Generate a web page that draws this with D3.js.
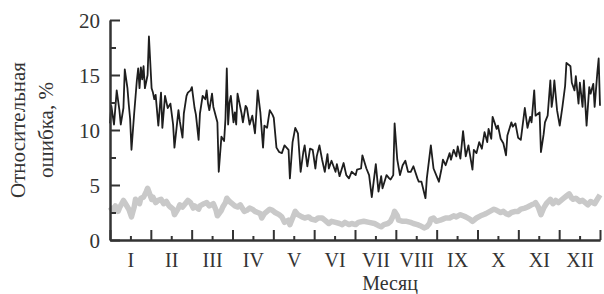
<!DOCTYPE html>
<html>
<head>
<meta charset="utf-8">
<script src="https://cdn.jsdelivr.net/npm/d3@7"></script>
<style>
  html, body { margin: 0; padding: 0; background: #ffffff; }
  svg { display: block; }
  text { font-family: "Liberation Serif", "DejaVu Serif", serif; fill: #333; }
</style>
</head>
<body>
<script>
// ---- data ----
const monthLabels = ["I","II","III","IV","V","VI","VII","VIII","IX","X","XI","XII"];
const yTicks = [0, 5, 10, 15, 20];
const yMinorTicks = [2.5, 7.5, 12.5, 17.5];

// black series: relative error (%) by day of year
const errDay = [0,1,3,5,7,8,10,11,13,14,15,16,18,19,20,21,22,23,24,25,26,28,29,31,32,33,34,36,38,39,41,43,45,47,48,51,52,54,55,57,58,60,61,63,64,66,67,69,71,72,73,74,76,77,80,81,83,85,86,87,88,89,90,92,93,94,95,98,99,101,102,104,106,108,109,110,112,114,115,117,119,121,122,124,126,128,130,133,134,136,138,140,142,144,145,147,149,151,153,154,156,158,160,162,163,165,168,169,171,174,176,178,180,183,184,187,188,191,193,195,198,200,202,203,206,208,209,211,212,214,216,218,220,222,224,226,229,230,232,235,236,239,241,244,245,247,248,250,253,254,256,258,259,261,263,265,267,270,271,273,275,277,279,281,282,284,285,288,289,291,293,295,296,299,300,302,304,306,309,311,313,314,316,317,320,321,323,324,326,328,329,330,331,333,335,337,339,340,343,344,346,347,349,350,352,353,355,357,358,360,361,363,364,365];
const errValue = [10.6,12.2,10.5,13.6,11.8,10.5,12.0,15.5,13.8,12.3,11.0,8.2,11.5,13.0,14.5,15.6,13.8,15.7,14.6,15.8,13.8,15.0,18.5,13.8,13.4,12.8,13.2,10.4,13.4,10.2,13.1,12.0,12.4,10.5,8.4,11.8,10.8,9.3,11.5,13.1,13.4,13.6,13.9,12.0,11.4,9.1,11.5,13.1,12.8,13.6,12.4,11.8,13.3,12.1,10.7,6.2,9.4,9.0,11.0,15.6,10.5,12.5,13.1,10.7,11.6,10.5,13.3,11.5,10.7,12.2,12.0,10.5,11.3,9.7,11.5,13.6,11.6,8.4,10.4,10.2,11.8,11.4,11.1,8.4,8.0,7.9,8.6,8.2,5.6,8.9,10.2,9.7,6.2,8.0,8.6,6.7,8.3,8.2,6.5,7.6,8.6,7.3,6.2,7.8,6.5,7.2,6.2,6.9,5.8,7.0,5.9,5.6,6.2,5.9,6.4,6.5,7.7,6.5,5.9,3.9,6.9,4.4,5.8,4.7,5.9,5.6,5.5,5.9,10.6,7.3,5.9,6.8,7.2,6.2,6.2,6.7,5.6,5.3,5.3,3.8,5.6,8.6,6.5,5.6,5.3,6.5,7.3,6.8,7.9,7.3,8.2,7.6,8.5,7.4,9.9,7.6,8.6,6.4,8.2,7.9,8.9,8.3,9.8,8.9,10.1,9.2,11.2,10.1,10.4,9.2,8.8,7.7,9.5,10.7,10.3,10.6,9.3,9.1,12.0,10.2,11.2,10.7,13.6,11.3,11.6,8.0,9.6,10.7,11.3,14.5,12.1,13.0,14.5,11.8,10.4,12.1,14.0,16.1,15.8,14.3,13.6,14.9,12.4,14.3,12.1,14.5,10.4,13.9,13.3,14.2,12.1,15.2,16.5,12.2];

// gray series
const grayDay = [0,2,4,6,7,10,12,14,16,18,19,22,23,25,27,28,31,32,34,36,38,40,42,44,45,47,48,51,52,54,56,58,60,62,63,66,67,70,72,74,77,79,80,83,84,86,87,89,91,93,95,97,98,100,102,104,106,108,110,112,113,115,117,119,121,123,126,128,130,133,134,136,138,140,143,145,148,150,153,155,158,160,163,165,168,171,173,175,178,180,183,185,189,193,197,200,202,204,207,209,211,212,214,215,218,221,224,226,229,231,234,236,238,239,241,243,246,248,250,253,256,258,261,263,265,268,270,273,276,278,280,283,286,288,291,293,295,297,299,302,304,306,309,311,314,316,317,319,321,323,325,328,330,332,334,336,338,340,342,344,345,347,350,352,354,356,358,361,363,365];
const grayValue = [3.0,2.7,3.1,2.6,2.9,3.6,3.2,2.8,2.1,3.0,3.7,3.3,3.8,3.9,4.4,4.7,3.7,3.9,3.4,3.6,3.7,3.3,3.5,3.1,3.0,2.8,2.3,2.9,3.2,3.0,3.3,3.6,3.4,2.9,3.1,2.8,3.1,3.3,3.4,3.1,3.3,2.7,2.2,2.7,3.0,3.4,3.8,3.5,3.3,3.1,3.0,3.2,3.0,2.6,2.7,2.9,2.8,2.6,2.5,2.4,2.0,2.4,2.6,2.8,2.7,2.5,2.3,2.1,1.6,1.8,1.4,2.0,2.6,2.3,2.1,2.0,2.1,1.9,1.8,2.0,2.0,1.8,1.5,1.7,1.6,1.5,1.4,1.6,1.4,1.5,1.4,1.6,1.7,1.6,1.5,1.3,1.2,1.4,1.5,1.7,2.2,2.6,2.2,1.8,1.7,1.7,1.6,1.5,1.4,1.3,1.1,1.2,1.5,1.9,2.0,1.7,1.8,1.9,2.0,2.0,2.2,2.1,2.3,2.2,2.1,1.9,1.7,2.0,2.2,2.3,2.4,2.6,2.8,2.7,2.5,2.6,2.4,2.3,2.5,2.6,2.6,2.8,2.9,3.0,3.2,3.3,3.4,3.0,2.3,2.9,3.3,3.7,3.3,3.6,3.4,3.6,3.8,4.0,4.2,3.8,3.7,3.8,3.5,3.6,3.4,3.2,3.5,3.3,3.7,4.1];

const yLabelLines = ["Относительная", "ошибка, %"];
const xLabel = "Месяц";

// ---- layout ----
const W = 604, H = 294;
const svg = d3.select("body").append("svg").attr("width", W).attr("height", H);

const x = d3.scaleLinear().domain([0, 365]).range([110, 600]);
const y = d3.scaleLinear().domain([0, 20]).range([240, 20]);

const monthBounds = d3.range(13).map(i => i * 365 / 12);
const monthCenters = d3.range(12).map(i => (i + 0.5) * 365 / 12);

// gray line
const line = d3.line().x(d => x(d[0])).y(d => y(d[1]));
svg.append("path")
  .datum(grayDay.map((d, i) => [d, grayValue[i]]))
  .attr("d", line)
  .attr("fill", "none")
  .attr("stroke", "#c9c9c9")
  .attr("stroke-width", 5.5)
  .attr("stroke-linejoin", "round");

// black line
svg.append("path")
  .datum(errDay.map((d, i) => [d, errValue[i]]))
  .attr("d", line)
  .attr("fill", "none")
  .attr("stroke", "#1e1e1e")
  .attr("stroke-width", 1.8)
  .attr("stroke-linejoin", "round");

// axes
const axisColor = "#333";
const fs = 21, tfs = 20;

const yAxis = svg.append("g").attr("transform", "translate(110,0)")
  .call(d3.axisLeft(y).tickValues(yTicks).tickSizeInner(-10).tickSizeOuter(0).tickPadding(10));
const yMinor = svg.append("g").attr("transform", "translate(110,0)")
  .call(d3.axisLeft(y).tickValues(yMinorTicks).tickSizeInner(-6).tickSizeOuter(0).tickFormat(""));

const xAxis = svg.append("g").attr("transform", "translate(0,240)")
  .call(d3.axisBottom(x).tickValues(monthBounds).tickSizeInner(-10).tickSizeOuter(0).tickFormat(""));
const xMinor = svg.append("g").attr("transform", "translate(0,240)")
  .call(d3.axisBottom(x).tickValues(monthCenters).tickSizeInner(-4).tickSizeOuter(0).tickPadding(13)
    .tickFormat((d, i) => monthLabels[i]));

[yAxis, yMinor, xAxis, xMinor].forEach(g => {
  g.selectAll("path.domain").attr("stroke", axisColor).attr("stroke-width", 2);
  g.selectAll(".tick line").attr("stroke", axisColor).attr("stroke-width", 2);
  g.selectAll(".tick text").style("font-size", tfs + "px")
    .style("font-family", '"Liberation Serif", serif').attr("fill", "#333");
});
yAxis.selectAll(".tick text").style("font-size", "21px").attr("dy", "0.34em");

// axis titles
svg.append("text")
  .attr("transform", "translate(25,130) rotate(-90)")
  .attr("text-anchor", "middle")
  .style("font-size", fs + "px")
  .text(yLabelLines[0]);
svg.append("text")
  .attr("transform", "translate(53,130) rotate(-90)")
  .attr("text-anchor", "middle")
  .style("font-size", fs + "px")
  .text(yLabelLines[1]);

svg.append("text")
  .attr("x", 390).attr("y", 289.5)
  .attr("text-anchor", "middle")
  .style("font-size", "20px")
  .text(xLabel);
</script>
</body>
</html>
